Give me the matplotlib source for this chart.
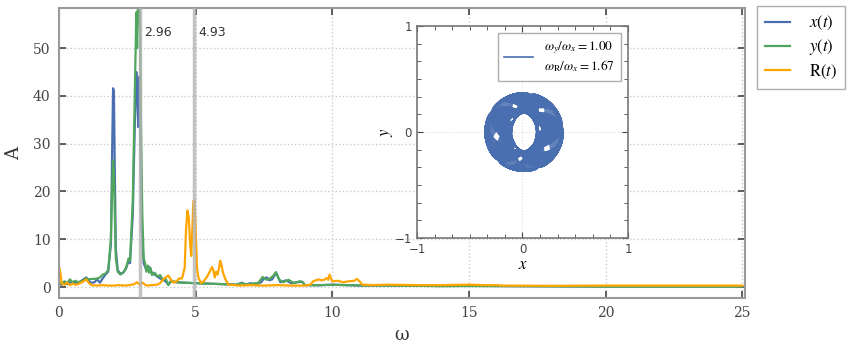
import numpy as np
import matplotlib
matplotlib.use('Agg')
import matplotlib.pyplot as plt
from matplotlib.ticker import MultipleLocator

# spectrum of x(t)
omega_x = [0.0, 0.1, 0.2, 0.3, 0.4, 0.5, 0.6, 0.7, 0.8, 0.9, 1.0, 1.1, 1.2, 1.3, 1.4,
           1.5, 1.6, 1.7, 1.8, 1.9, 1.95, 1.98, 2.01, 2.04, 2.08, 2.15, 2.25, 2.35,
           2.45, 2.55, 2.6, 2.7, 2.78, 2.83, 2.87, 2.9, 2.94, 2.98, 3.03, 3.1, 3.2,
           3.3, 3.4, 3.5, 3.6, 3.7, 3.8, 3.9, 4.0, 4.1, 4.3, 4.6, 5.0, 5.5, 6.0, 6.5,
           6.7, 6.8, 7.0, 7.2, 7.4, 7.5, 7.6, 7.7, 7.8, 7.95, 8.1, 8.3, 8.5, 8.7, 8.9,
           9.0, 9.5, 10.0, 10.5, 11.0, 12.0, 13.0, 14.0, 15.0, 16.0, 18.0, 20.0, 22.0, 25.0]
amp_x = [0.6, 0.5, 0.8, 0.6, 1.0, 0.7, 0.9, 0.8, 1.2, 1.6, 2.0, 1.2, 0.9, 1.0, 1.6,
         0.9, 1.8, 2.6, 3.2, 9.0, 30.0, 41.6, 41.0, 26.0, 8.0, 3.5, 2.8, 3.0,
         3.8, 5.5, 5.0, 15.0, 35.0, 45.0, 40.0, 33.5, 44.0, 30.0, 12.0, 5.0, 3.5,
         4.2, 3.0, 2.6, 2.2, 1.8, 1.5, 1.2, 0.5, 1.2, 1.0, 0.9, 0.8, 0.7, 0.6, 0.5,
         0.9, 0.4, 0.8, 0.6, 1.0, 1.8, 2.0, 1.4, 1.6, 3.0, 1.0, 1.4, 0.8, 1.0, 1.1,
         0.4, 0.35, 0.5, 0.4, 0.3, 0.3, 0.25, 0.2, 0.25, 0.2, 0.15, 0.1, 0.1, 0.1]

# spectrum of y(t)
omega_y = [0.0, 0.1, 0.2, 0.3, 0.4, 0.5, 0.6, 0.7, 0.8, 0.9, 1.0, 1.1, 1.2, 1.3, 1.4,
           1.5, 1.6, 1.7, 1.8, 1.9, 1.95, 1.98, 2.01, 2.04, 2.08, 2.15, 2.25, 2.35,
           2.45, 2.55, 2.6, 2.7, 2.78, 2.83, 2.86, 2.9, 2.95, 3.0, 3.05, 3.1, 3.15,
           3.2, 3.25, 3.3, 3.35, 3.4, 3.5, 3.6, 3.7, 3.8, 3.9, 4.0, 4.1, 4.3, 4.6,
           5.0, 5.5, 6.0, 6.5, 6.7, 6.9, 7.1, 7.3, 7.45, 7.6, 7.75, 7.85, 7.93, 8.05,
           8.2, 8.4, 8.6, 8.8, 8.9, 9.0, 9.5, 10.0, 10.5, 11.0, 12.0, 13.0, 14.0,
           15.0, 16.0, 18.0, 20.0, 22.0, 25.0]
amp_y = [1.0, 0.6, 1.2, 0.8, 1.6, 1.0, 1.3, 1.0, 1.2, 1.4, 1.8, 1.6, 1.7, 1.7, 1.8,
         2.0, 2.6, 2.8, 3.5, 10.0, 22.0, 26.5, 24.0, 16.0, 6.0, 3.2, 2.6, 3.0,
         4.0, 6.0, 5.5, 18.0, 42.0, 57.5, 50.0, 62.0, 62.0, 35.0, 15.0, 6.0, 5.0,
         3.2, 4.5, 3.0, 4.0, 2.5, 3.0, 2.2, 2.5, 1.5, 1.8, 0.4, 1.3, 1.0, 0.9,
         0.8, 0.7, 0.6, 0.5, 0.8, 0.5, 0.7, 0.9, 2.1, 1.5, 1.9, 2.4, 3.1, 1.6,
         1.0, 1.5, 0.8, 1.2, 1.1, 0.4, 0.4, 0.45, 0.4, 0.35, 0.3, 0.25, 0.2,
         0.2, 0.2, 0.15, 0.1, 0.1, 0.1]

# spectrum of R(t)
omega_r = [0.0, 0.05, 0.1, 0.2, 0.3, 0.4, 0.5, 0.6, 0.7, 0.8, 0.9, 1.0, 1.1, 1.2,
           1.4, 1.6, 1.8, 2.0, 2.2, 2.4, 2.6, 2.75, 2.85, 2.95, 3.05, 3.2, 3.4, 3.6,
           3.7, 3.8, 3.9, 4.0, 4.1, 4.2, 4.3, 4.4, 4.5, 4.6, 4.65, 4.7, 4.75, 4.8,
           4.84, 4.88, 4.92, 4.96, 5.0, 5.05, 5.1, 5.2, 5.3, 5.4, 5.5, 5.6, 5.65,
           5.7, 5.75, 5.8, 5.85, 5.9, 5.95, 6.0, 6.1, 6.2, 6.4, 6.6, 7.0, 7.5, 8.0,
           8.5, 9.0, 9.2, 9.3, 9.5, 9.6, 9.7, 9.8, 9.85, 9.9, 9.95, 10.0, 10.2, 10.4,
           10.6, 10.8, 10.9, 11.0, 11.1, 11.5, 12.0, 13.0, 14.0, 15.0, 15.5, 16.0,
           16.2, 18.0, 20.0, 22.0, 25.0]
amp_r = [4.3, 3.0, 0.8, 0.5, 0.9, 0.4, 0.7, 0.5, 0.6, 0.9, 1.2, 1.6, 0.8, 0.4,
         0.3, 0.4, 0.3, 0.3, 0.4, 0.3, 0.4, 0.6, 1.0, 0.5, 0.9, 0.3, 0.4, 0.5,
         0.8, 1.5, 2.0, 2.4, 1.5, 0.9, 1.2, 1.8, 1.8, 4.0, 12.0, 16.0, 14.5, 9.0,
         6.5, 12.0, 18.0, 18.2, 12.0, 4.0, 2.0, 0.8, 1.2, 2.0, 3.0, 4.2, 3.5,
         2.0, 3.2, 2.6, 3.8, 5.5, 4.5, 3.0, 1.5, 0.5, 0.4, 0.3, 0.4, 0.3, 0.4,
         0.3, 0.3, 0.5, 1.2, 1.6, 1.4, 1.5, 1.9, 1.5, 2.6, 1.8, 1.2, 1.3, 1.0,
         1.2, 1.3, 1.7, 1.2, 0.5, 0.4, 0.5, 0.4, 0.4, 0.5, 0.4, 0.4,
         0.3, 0.25, 0.3, 0.3, 0.3]

peak_lines = [2.96, 4.93]

# inset orbit: two rotating components at the two x/y spectral peaks,
# amplitudes read off the size of the annulus and its hole
ratio_y = 1.00
ratio_r = 1.67
orbit_freqs = [2.96, 1.98]
amp_fast = [0.245, 0.275]  # x, y
amp_slow = [0.13, 0.10]    # x, y
orbit_offset = 0.015
orbit_duration = 250

blue = '#4a6fb0'
green = '#4fa65c'
orange = '#ffa500'
frame = '#9a9a9a'


def main():
    plt.rcParams['font.family'] = 'DejaVu Serif'
    plt.rcParams['mathtext.fontset'] = 'stix'

    fig = plt.figure(figsize=(8.52, 3.46), dpi=100)
    ax = fig.add_axes([0.0692, 0.1387, 0.8052, 0.8382])

    for x in peak_lines:
        ax.axvline(x, color='#b4b4b4', lw=2.5, zorder=3, alpha=0.8)
        ax.text(x + 0.17, 53.3, f'{x:.2f}', family='DejaVu Sans', fontsize=9,
                color='#333333', va='center', ha='left')

    l1, = ax.plot(omega_x, amp_x, color=blue, lw=1.6, label=r'$x(t)$', zorder=2)
    l2, = ax.plot(omega_y, amp_y, color=green, lw=1.6, label=r'$y(t)$', zorder=2)
    l3, = ax.plot(omega_r, amp_r, color=orange, lw=1.6, label=r'$\mathrm{R}(t)$', zorder=2)

    ax.set_xlim(0, 25.1)
    ax.set_ylim(-2.3, 58.4)
    ax.set_xticks([0, 5, 10, 15, 20, 25])
    ax.set_yticks([0, 10, 20, 30, 40, 50])
    ax.grid(True, ls=':', color='#cccccc', lw=1)
    ax.tick_params(direction='in', top=True, right=True, length=5, width=1.2,
                   color='#444444', labelsize=10, labelcolor='#444444', pad=6)
    for s in ax.spines.values():
        s.set_color(frame)
        s.set_linewidth(1.5)
    ax.set_xlabel('ω', fontsize=13, color='#333333', labelpad=4)
    ax.set_ylabel('A', fontsize=13, color='#333333', labelpad=7)

    fig.legend(handles=[l1, l2, l3], loc='upper left',
               bbox_to_anchor=(757 / 852, 1 - 6 / 346), fontsize=12,
               frameon=True, fancybox=False, edgecolor=frame, handlelength=1.5,
               borderpad=0.5, labelspacing=0.3, handletextpad=1.1,
               borderaxespad=0)

    # inset orbit
    axi = fig.add_axes([0.4894, 0.3121, 0.2477, 0.6127])
    t = np.linspace(0, orbit_duration, 25000)
    xo = (amp_fast[0] * np.cos(orbit_freqs[0] * t)
          + amp_slow[0] * np.cos(orbit_freqs[1] * t) + orbit_offset)
    yo = (amp_fast[1] * np.sin(orbit_freqs[0] * t)
          - amp_slow[1] * np.sin(orbit_freqs[1] * t))
    axi.plot(xo, yo, color=blue, lw=0.35,
             label='$\\omega_y/\\omega_x = %.2f$\n$\\omega_\\mathrm{R}/\\omega_x = %.2f$'
             % (ratio_y, ratio_r))
    axi.set_xlim(-1, 1)
    axi.set_ylim(-1, 1)
    axi.set_xticks([-1, 0, 1])
    axi.set_yticks([-1, 0, 1])
    axi.xaxis.set_minor_locator(MultipleLocator(1 / 6))
    axi.yaxis.set_minor_locator(MultipleLocator(1 / 6))
    axi.grid(True, ls=':', color='#dddddd', lw=0.8)
    axi.tick_params(which='both', direction='in', top=True, right=True,
                    color='#444444', labelsize=8.5, labelcolor='#444444')
    axi.tick_params(which='major', length=4)
    axi.tick_params(which='minor', length=3)
    for lab in axi.get_xticklabels() + axi.get_yticklabels():
        lab.set_family('DejaVu Sans')
    for s in axi.spines.values():
        s.set_color('#777777')
        s.set_linewidth(1.2)
    axi.set_xlabel(r'$x$', fontsize=12, labelpad=0)
    axi.set_ylabel(r'$y$', fontsize=12, labelpad=0)
    leg = axi.legend(loc='upper right', fontsize=9.5, frameon=True, fancybox=False,
                     edgecolor=frame, handlelength=2.2, borderpad=0.5,
                     borderaxespad=0.5)
    for ln in leg.get_lines():
        ln.set_linewidth(1.2)

    fig.savefig('out.png', dpi=100)


if __name__ == "__main__":
    main()
